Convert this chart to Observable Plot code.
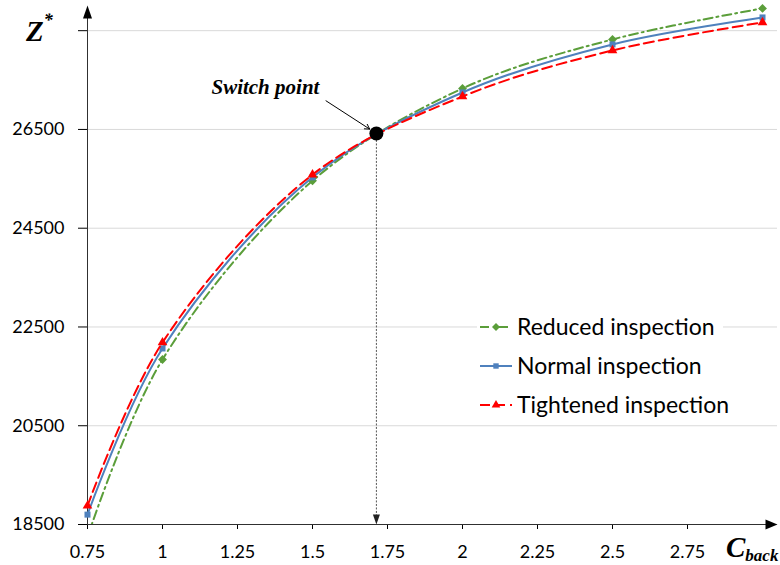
<!DOCTYPE html>
<html><head><meta charset="utf-8">
<script src="https://cdn.jsdelivr.net/npm/d3@7"></script>
<script src="https://cdn.jsdelivr.net/npm/@observablehq/plot@0.6"></script>
<style>body{margin:0;background:#fff;} #chart{position:relative;width:780px;height:565px;}</style>
</head><body><div id="chart"></div>
<script>
// ---- data ----
const xValues = [0.75, 1, 1.5, 2, 2.5, 3];
const reducedValues = [18250, 21842, 25460, 27330, 28323, 28951];
const normalValues = [18700, 22065, 25530, 27249, 28222, 28768];
const tightenedValues = [18880, 22186, 25585, 27168, 28100, 28667];
const seriesNames = ["Reduced inspection", "Normal inspection", "Tightened inspection"];
const switchPoint = [{x: 1.713, y: 26419}];
const switchLabel = ["Switch point"];
const xTicks = [0.75, 1, 1.25, 1.5, 1.75, 2, 2.25, 2.5, 2.75];
const yTicks = [18500, 20500, 22500, 24500, 26500, 28500];
const yLabelled = [18500, 20500, 22500, 24500, 26500];

// ---- styles ----
const seriesColors = ["#5B9E3A", "#4F81BD", "#FF0000"];
const seriesDash = ["9,4,2,4", null, "10,5"];
const seriesSymbols = ["diamond2", "square", "triangle"];
const seriesR = [4, 3.4, 3.6];
const xDomain = [0.75, 3.05];
const yDomain = [18500, 29010];

const allValues = [reducedValues, normalValues, tightenedValues];
const rows = seriesNames.map((name, s) => xValues.map((x, i) => ({series: name, x, y: allValues[s][i]})));

const arrowUp = {draw(c){ c.moveTo(0,0); c.lineTo(4.5,13); c.lineTo(-4.5,13); c.closePath(); }};
const arrowRight = {draw(c){ c.moveTo(0,0); c.lineTo(-12,-5); c.lineTo(-12,5); c.closePath(); }};
const arrowDown = {draw(c){ c.moveTo(0,0); c.lineTo(-3.5,-10); c.lineTo(3.5,-10); c.closePath(); }};

// annotation anchors (data coordinates)
const labelPos = [{x: 1.523, y: 27349, text: switchLabel[0]}];
const pointerArrow = [{x1: 1.545, y1: 27080, x2: switchPoint[0].x, y2: switchPoint[0].y}];

const marks = [
  Plot.ruleY(yTicks, {stroke: "#d9d9d9", strokeWidth: 1}),
  Plot.ruleX([xDomain[0]], {y1: yDomain[0], y2: yDomain[1] - 200, stroke: "#303030"}),
  Plot.ruleY([yDomain[0]], {x1: xDomain[0], x2: xDomain[1] - 0.03, stroke: "#303030"}),
  Plot.dot([{x: xDomain[0], y: yDomain[1]}], {x: "x", y: "y", symbol: arrowUp, fill: "#000", stroke: "none"}),
  Plot.dot([{x: xDomain[1], y: yDomain[0]}], {x: "x", y: "y", symbol: arrowRight, fill: "#000", stroke: "none"}),
  Plot.ruleX(switchPoint, {x: "x", y1: "y", y2: yDomain[0] + 150, stroke: "#555", strokeDasharray: "2,1.5", strokeWidth: 1}),
  Plot.dot(switchPoint, {x: "x", y: () => yDomain[0], symbol: arrowDown, fill: "#222", stroke: "none"}),
];
rows.forEach((r, s) => {
  marks.push(Plot.line(r, {x: "x", y: "y", stroke: seriesColors[s], strokeWidth: 2, strokeDasharray: seriesDash[s] || undefined, curve: "catmull-rom", clip: true}));
  marks.push(Plot.dot(r.filter(d => d.y >= yDomain[0]), {x: "x", y: "y", symbol: seriesSymbols[s], r: seriesR[s], fill: seriesColors[s], stroke: "none"}));
});
marks.push(
  Plot.arrow(pointerArrow, {x1: "x1", y1: "y1", x2: "x2", y2: "y2", insetEnd: 8, headLength: 8, stroke: "#000", strokeWidth: 1}),
  Plot.text(labelPos, {x: "x", y: "y", text: "text", textAnchor: "end", fontFamily: "Liberation Serif", fontWeight: "bold", fontStyle: "italic", fontSize: 21, fill: "#000"}),
  Plot.dot(switchPoint, {x: "x", y: "y", r: 7, fill: "#000", stroke: "none"})
);

const plot = Plot.plot({
  width: 780, height: 565,
  marginLeft: 87, marginRight: 3, marginTop: 5, marginBottom: 41,
  style: {fontFamily: "Lato, sans-serif", fontSize: "18px", color: "#000", background: "#fff"},
  x: {domain: xDomain, ticks: xTicks, tickSize: 5, tickPadding: 16, tickFormat: d => String(d), label: null},
  y: {domain: yDomain, ticks: yTicks, tickSize: 9, tickPadding: 14, tickFormat: d => yLabelled.includes(d) ? String(d) : "", label: null},
  marks
});
document.getElementById("chart").appendChild(plot);

const svg = d3.select(plot.tagName.toLowerCase() === "svg" ? plot : plot.querySelector("svg"));
const serif = "'Liberation Serif', 'Times New Roman', serif";
// axis titles
const zt = svg.append("text").attr("x", 26).attr("y", 41).attr("text-anchor", "start").attr("font-family", serif).attr("font-weight", "bold").attr("font-style", "italic").attr("fill", "#000");
zt.append("tspan").attr("font-size", 29).text("Z");
zt.append("tspan").attr("font-size", 18).attr("dy", -15).text("*");
const ct = svg.append("text").attr("x", 726).attr("y", 557).attr("text-anchor", "start").attr("font-family", serif).attr("font-weight", "bold").attr("font-style", "italic").attr("fill", "#000");
ct.append("tspan").attr("font-size", 29).text("C");
ct.append("tspan").attr("font-size", 17).attr("dy", 4).text("back");

// legend
const lg = svg.append("g");
lg.append("rect").attr("x", 477).attr("y", 309).attr("width", 246).attr("height", 112).attr("fill", "#fff");
const legendY = [327, 366, 405];
seriesNames.forEach((name, s) => {
  const y = legendY[s];
  lg.append("line").attr("x1", 480).attr("x2", 512).attr("y1", y).attr("y2", y)
    .attr("stroke", seriesColors[s]).attr("stroke-width", 2).attr("stroke-dasharray", seriesDash[s]);
  const symType = [d3.symbolDiamond2, d3.symbolSquare, d3.symbolTriangle][s];
  lg.append("path").attr("transform", `translate(496,${y})`)
    .attr("d", d3.symbol(symType, Math.PI * seriesR[s] * seriesR[s] * 0.8)()).attr("fill", seriesColors[s]);
  lg.append("text").attr("x", 517).attr("y", y).attr("dy", "0.36em").attr("text-anchor", "start").attr("font-family", "Lato, sans-serif")
    .attr("font-size", 23).attr("fill", "#000").text(name);
});
</script></body></html>
